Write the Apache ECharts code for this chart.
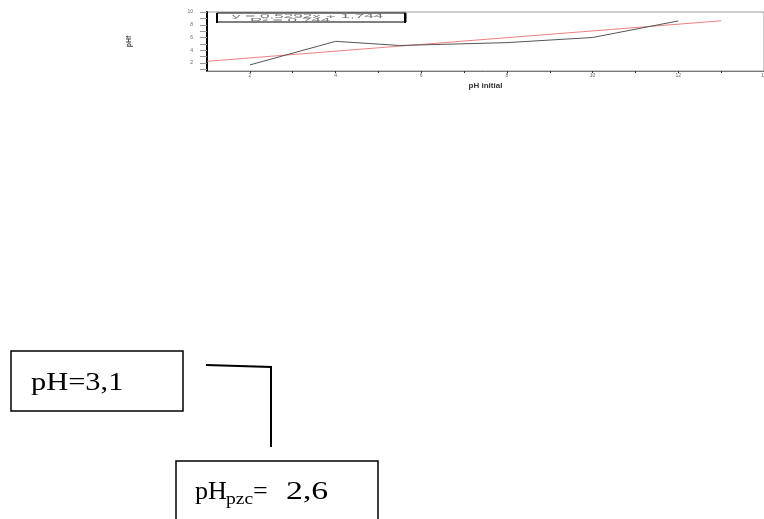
<!DOCTYPE html>
<html><head><meta charset="utf-8">
<script src="https://cdn.jsdelivr.net/npm/echarts@6/dist/echarts.min.js"></script>
<style>html,body{margin:0;padding:0;background:#fff}#c{width:764px;height:519px}</style>
</head><body><div id="c"></div>
<script>
// pH initial vs pH final (measured)
const phInitial = [2, 4, 5.5, 8, 10, 12];
const phFinal = [1.7, 5.4, 4.75, 5.2, 6.0, 8.6];
// linear fit endpoints
const fitX = [1, 13];
const fitY = [2.27, 8.62];
const xLabels = [2, 4, 6, 8, 10, 12, 14];
const xTicks = [2, 3, 4, 5, 6, 7, 8, 9, 10, 11, 12, 13, 14];
const yLabels = [2, 4, 6, 8, 10];
const yTicks = [1, 2, 3, 4, 5, 6, 7, 8, 9, 10];
const eqText = 'y = 0,5292x + 1,744';
const r2Text = 'R² = 0,744';
const box1Text = 'pH=3,1';
const box2Main = 'pH';
const box2Sub = 'pzc';
const box2Eq = '=';
const box2Val = '2,6';

const chart = echarts.init(document.getElementById('c'), null, {renderer: 'canvas'});
const serif = '"Liberation Serif", "DejaVu Serif", serif';
chart.setOption({
  animation: false,
  backgroundColor: '#fff',
  grid: {left: 207, right: 0, top: 12, bottom: 448, show: true, borderColor: '#999', borderWidth: 1, outerBoundsMode: 'none', containLabel: false},
  xAxis: {
    type: 'value', min: 1, max: 14,
    axisLine: {show: true, onZero: false, lineStyle: {color: '#777', width: 1}},
    axisTick: {show: true, customValues: xTicks, length: 2, inside: false, lineStyle: {color: '#333'}},
    axisLabel: {customValues: xLabels, fontSize: 5, color: '#666', margin: 2, fontFamily: 'Arial', hideOverlap: false},
    splitLine: {show: false},
    name: 'pH initial', nameLocation: 'middle', nameGap: 11,
    nameTextStyle: {fontSize: 8, fontWeight: 'bold', color: '#333', fontFamily: 'Arial'}
  },
  yAxis: {
    type: 'value', min: 0.75, max: 10,
    axisLine: {show: true, onZero: false, lineStyle: {color: '#000', width: 2}},
    axisTick: {show: true, customValues: yTicks, length: 7, lineStyle: {color: '#999'}},
    axisLabel: {customValues: yLabels, fontSize: 5, color: '#666', margin: 14, fontFamily: 'Arial'},
    splitLine: {show: false},
    name: 'pHf', nameLocation: 'middle', nameGap: 74, nameRotate: 90,
    nameTextStyle: {fontSize: 7, fontWeight: 'bold', color: '#444', fontFamily: 'Arial'}
  },
  series: [
    {type: 'line', data: fitX.map((x, i) => [x, fitY[i]]), symbol: 'none',
     lineStyle: {color: '#f08080', width: 1}, z: 2},
    {type: 'line', data: phInitial.map((x, i) => [x, phFinal[i]]), symbol: 'none',
     lineStyle: {color: '#555', width: 1}, z: 3}
  ],
  graphic: [
    {type: 'rect', shape: {x: 217, y: 13, width: 189, height: 9},
     style: {fill: '#fff', stroke: '#000', lineWidth: 1}, z: 10},
    {type: 'rect', shape: {x: 216, y: 13, width: 2, height: 10}, style: {fill: '#000'}, z: 11},
    {type: 'rect', shape: {x: 404, y: 13, width: 2, height: 10}, style: {fill: '#000'}, z: 11},
    {type: 'text', x: 232, y: 16.5, scaleX: 1.9, scaleY: 0.5,
     style: {text: eqText, font: '9px Arial', fill: '#777', align: 'left', verticalAlign: 'middle'}, z: 12},
    {type: 'text', x: 250, y: 20.5, scaleX: 1.9, scaleY: 0.5,
     style: {text: r2Text, font: '9px Arial', fill: '#777', align: 'left', verticalAlign: 'middle'}, z: 12},
    // lower annotation boxes
    {type: 'rect', shape: {x: 11, y: 351, width: 172, height: 60},
     style: {fill: 'none', stroke: '#000', lineWidth: 1.5}},
    {type: 'text', x: 31, y: 383, scaleX: 1.17,
     style: {text: box1Text, font: '26px ' + serif, fill: '#000', align: 'left', verticalAlign: 'middle'}},
    {type: 'polyline', shape: {points: [[206, 365], [271, 367], [271, 447]]},
     style: {fill: 'none', stroke: '#000', lineWidth: 2}},
    {type: 'rect', shape: {x: 176, y: 461, width: 202, height: 70},
     style: {fill: 'none', stroke: '#000', lineWidth: 1.5}},
    {type: 'text', x: 195, y: 492, style: {text: box2Main, font: '26px ' + serif, fill: '#000', align: 'left', verticalAlign: 'middle'}},
    {type: 'text', x: 226, y: 500, scaleX: 1.15, style: {text: box2Sub, font: '17px ' + serif, fill: '#000', align: 'left', verticalAlign: 'middle'}},
    {type: 'text', x: 253, y: 492, style: {text: box2Eq, font: '26px ' + serif, fill: '#000', align: 'left', verticalAlign: 'middle'}},
    {type: 'text', x: 286, y: 492, scaleX: 1.3, style: {text: box2Val, font: '26px ' + serif, fill: '#000', align: 'left', verticalAlign: 'middle'}}
  ]
});
</script>
</body></html>
